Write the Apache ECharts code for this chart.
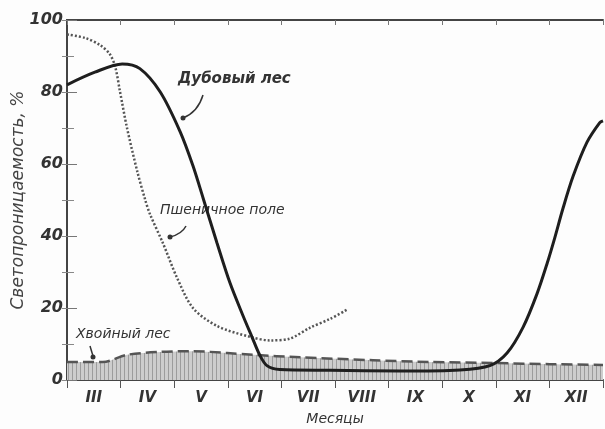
<!DOCTYPE html>
<html>
<head>
<meta charset="utf-8">
<script src="https://cdn.jsdelivr.net/npm/echarts@6/dist/echarts.min.js"></script>
<style>
  html, body { margin: 0; padding: 0; background: #fdfdfd; }
  #chart { width: 605px; height: 429px; }
</style>
</head>
<body>
<div id="chart"></div>
<script>
// Month labels (March..December), one per unit on the x scale
var months = ['III', 'IV', 'V', 'VI', 'VII', 'VIII', 'IX', 'X', 'XI', 'XII'];

// x = months since the start of March, y = light transmission, %
var oakX = [0, 0.52, 1.03, 1.36, 1.74, 2.11, 2.35, 2.54, 2.80, 3.04, 3.28, 3.45, 3.60, 3.73, 3.97, 4.91, 6.21, 7.33, 7.89, 8.21, 8.51, 8.77, 8.96, 9.10, 9.25, 9.44, 9.70, 9.94, 10];
var oakY = [82, 85.5, 87.8, 86.5, 80, 69, 59.5, 50.5, 38, 27, 18, 12, 6.8, 4, 2.9, 2.7, 2.5, 2.8, 4, 7.5, 14.7, 24, 32.5, 39.5, 47.5, 56.5, 66, 71.5, 72];

var wheatX = [0, 0.34, 0.62, 0.80, 0.90, 0.99, 1.12, 1.31, 1.46, 1.55, 1.79, 2.05, 2.35, 2.80, 3.41, 3.79, 4.16, 4.53, 4.91, 5.22];
var wheatY = [96, 95, 93, 90.5, 87, 80, 70, 58, 50, 46, 38, 28.5, 20, 15, 12, 11, 11.5, 14.5, 17, 19.5];

var pineX = [0, 0.67, 1.12, 1.74, 2.35, 2.99, 3.47, 4.35, 5.71, 6.77, 8.02, 9.01, 10];
var pineY = [5, 5, 7, 7.8, 8, 7.5, 7, 6.3, 5.5, 5, 4.7, 4.4, 4.2];

function pairs(xs, ys) {
    var out = [];
    for (var i = 0; i < xs.length; ++i) {
        out.push([xs[i], ys[i]]);
    }
    return out;
}

// Vertical hatching used under the conifer curve
function hatch() {
    var c = document.createElement('canvas');
    c.width = 4;
    c.height = 4;
    var g = c.getContext('2d');
    g.fillStyle = '#cdcdcd';
    g.fillRect(0, 0, 4, 4);
    g.fillStyle = '#9c9c9c';
    g.fillRect(0, 0, 1, 4);
    return c;
}

var ink = '#333';
var font = 'DejaVu Sans';

var myChart = echarts.init(document.getElementById('chart'));

var option = {
    backgroundColor: '#fdfdfd',
    animation: false,
    grid: { left: 67, right: 2, top: 20, bottom: 49, outerBoundsMode: 'none' },
    xAxis: [{
        type: 'value', min: 0, max: 10, interval: 1, position: 'bottom',
        axisLine: { lineStyle: { color: '#444', width: 2 } },
        axisTick: { length: 8, lineStyle: { color: '#555' } },
        axisLabel: { show: false },
        splitLine: { show: false }
    }, {
        type: 'category', data: months, position: 'bottom', boundaryGap: true,
        axisLine: { show: false },
        axisTick: { show: false },
        axisLabel: {
            color: ink, fontFamily: font, fontStyle: 'italic', fontWeight: 'bold',
            fontSize: 15, margin: 11
        },
        name: 'Месяцы', nameLocation: 'middle', nameGap: 32, nameMoveOverlap: false,
        nameTextStyle: { color: ink, fontFamily: font, fontStyle: 'italic', fontSize: 14 }
    }, {
        type: 'value', min: 0, max: 10, interval: 1, position: 'top',
        axisLine: { lineStyle: { color: '#444', width: 2 } },
        axisTick: { inside: true, length: 5, lineStyle: { color: '#777' } },
        axisLabel: { show: false },
        splitLine: { show: false }
    }],
    yAxis: [{
        type: 'value', min: 0, max: 100, interval: 20, position: 'left',
        axisLine: { show: true, lineStyle: { color: '#444', width: 2 } },
        axisTick: { show: true, inside: true, length: 10, lineStyle: { color: '#777' } },
        minorTick: { show: true, splitNumber: 2, length: 7, lineStyle: { color: '#888' } },
        axisLabel: {
            color: ink, fontFamily: font, fontStyle: 'italic', fontWeight: 'bold',
            fontSize: 16, margin: 4
        },
        splitLine: { show: false },
        name: 'Светопроницаемость, %', nameLocation: 'middle', nameGap: 40, nameRotate: 90,
        nameMoveOverlap: false,
        nameTextStyle: { color: '#444', fontFamily: font, fontStyle: 'italic', fontSize: 17 }
    }, {
        type: 'value', min: 0, max: 100, interval: 10, position: 'right',
        axisLine: { show: true, lineStyle: { color: '#444', width: 2 } },
        axisTick: { show: true, inside: true, length: 5, lineStyle: { color: '#888' } },
        axisLabel: { show: false },
        splitLine: { show: false }
    }],
    series: [{
        name: 'Хвойный лес',
        type: 'line', smooth: 0.3, showSymbol: false,
        data: pairs(pineX, pineY),
        lineStyle: { color: '#555', width: 2.5, type: [11, 5] },
        areaStyle: { color: { image: hatch(), repeat: 'repeat' }, opacity: 1 },
        z: 2
    }, {
        name: 'Пшеничное поле',
        type: 'line', smooth: 0.3, showSymbol: false,
        data: pairs(wheatX, wheatY),
        lineStyle: { color: '#555', width: 2.5, type: [2, 2] },
        z: 3
    }, {
        name: 'Дубовый лес',
        type: 'line', smooth: 0.3, showSymbol: false,
        data: pairs(oakX, oakY),
        lineStyle: { color: '#1e1e1e', width: 3 },
        z: 4
    }],
    graphic: [
        // Series captions with their leader lines
        { type: 'text', left: 178, top: 72, style: { text: 'Дубовый лес', fill: ink, font: 'italic bold 15px ' + font } },
        { type: 'bezierCurve', shape: { x1: 203, y1: 95, x2: 183, y2: 118, cpx1: 198, cpy1: 112 }, style: { stroke: ink, lineWidth: 1.5, fill: null } },
        { type: 'circle', shape: { cx: 183, cy: 118, r: 2.5 }, style: { fill: ink } },
        { type: 'text', left: 160, top: 203, style: { text: 'Пшеничное поле', fill: ink, font: 'italic 14px ' + font } },
        { type: 'bezierCurve', shape: { x1: 186, y1: 226, x2: 170, y2: 237, cpx1: 182, cpy1: 234 }, style: { stroke: ink, lineWidth: 1.5, fill: null } },
        { type: 'circle', shape: { cx: 170, cy: 237, r: 2.5 }, style: { fill: ink } },
        { type: 'text', left: 76, top: 327, style: { text: 'Хвойный лес', fill: ink, font: 'italic 14px ' + font } },
        { type: 'line', shape: { x1: 90, y1: 346, x2: 93, y2: 356 }, style: { stroke: ink, lineWidth: 1.5 } },
        { type: 'circle', shape: { cx: 93, cy: 357, r: 2.5 }, style: { fill: ink } }
    ]
};
myChart.setOption(option);
</script>
</body>
</html>
